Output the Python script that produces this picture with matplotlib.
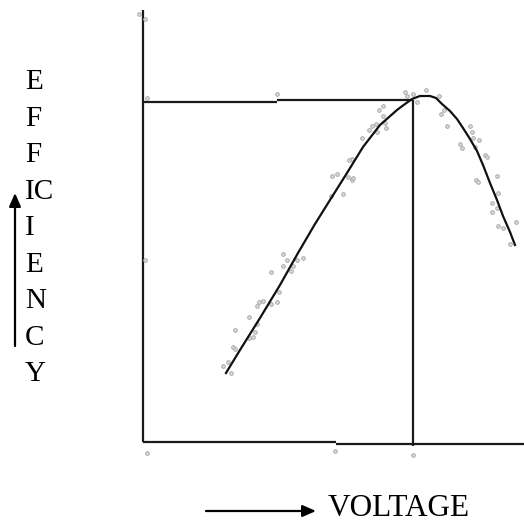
import matplotlib
matplotlib.use('Agg')
import matplotlib.pyplot as plt

# diagram drawn in image-pixel space (x right, y down)
W, H = 524, 523

# efficiency curve
curve_x = [226, 240, 260, 280, 298, 315, 330, 347, 363, 380, 397, 405, 412,
           420, 430, 436, 442, 450, 457, 463, 470, 477, 483, 490, 497, 503,
           510, 515]
curve_y = [373, 350, 318, 285, 253, 224, 200, 173, 147, 125, 110, 104, 99,
           96, 96, 98, 104, 111, 119, 128, 139, 151, 165, 183, 200, 216,
           232, 245]

# stray scan dots around the curve
dots_x = [405, 407, 413, 417, 426, 439, 441, 444, 447, 460, 462, 470, 472,
          473, 479, 475, 485, 487, 497, 476, 478, 498, 492, 492, 497, 498,
          503, 516, 510, 383, 379, 383, 385, 386, 376, 372, 369, 377, 362,
          352, 349, 352, 353, 348, 337, 332, 343, 331,
          283, 287, 297, 303, 283, 293, 291, 271, 279, 277, 271, 263, 259,
          257, 249, 257, 255, 235, 253, 249, 233, 235, 228, 223, 231,
          139, 145, 147, 277, 147, 335, 413, 145]
dots_y = [92, 96, 94, 102, 90, 96, 114, 110, 126, 144, 148, 126, 132, 138,
          140, 147, 155, 157, 176, 180, 182, 193, 203, 212, 208, 226, 228,
          222, 244, 106, 110, 116, 123, 128, 124, 126, 130, 132, 138, 159,
          160, 180, 178, 177, 174, 176, 194, 196,
          254, 260, 260, 258, 266, 266, 271, 272, 292, 302, 304, 301, 302,
          306, 317, 324, 332, 330, 337, 338, 347, 349, 362, 366, 373,
          14, 19, 98, 94, 453, 451, 455, 260]

# frame / guide lines (x list, y list)
lines = [
    ([143, 143], [10, 442]),          # left axis
    ([143, 336], [442, 442]),         # bottom axis, left part
    ([336, 524], [444, 444]),         # bottom axis, right part
    ([143, 277], [102, 102]),         # max-efficiency guide
    ([277, 413], [100, 100]),
    ([413, 413], [100, 446]),         # optimum voltage guide
]

ylabel_letters = ['E', 'F', 'F', 'IC', 'I', 'E', 'N', 'C', 'Y']
ylabel_y = [82, 119, 155, 192, 228, 265, 301, 338, 374]

fig = plt.figure(figsize=(W / 100, H / 100), dpi=100)
ax = fig.add_axes([0, 0, 1, 1])
ax.set_xlim(0, W)
ax.set_ylim(H, 0)
ax.axis('off')

for lx, ly in lines:
    ax.plot(lx, ly, color='#1a1a1a', lw=1.6, solid_capstyle='butt')

ax.plot(dots_x, dots_y, 'o', ms=2.6, mfc='#dddddd', mec='#a8a8a8', mew=0.7)
ax.plot(curve_x, curve_y, color='#111111', lw=1.6)

font = dict(family='Liberation Serif', color='black')
for s, yy in zip(ylabel_letters, ylabel_y):
    ax.text(25, yy, s, ha='left', va='center', fontsize=21, **font)
ax.text(328, 516, 'VOLTAGE', ha='left', va='baseline', fontsize=22.5, **font)

ax.annotate('', xy=(15, 193), xytext=(15, 346),
            arrowprops=dict(arrowstyle='-|>,head_width=0.35,head_length=0.8',
                            color='black', lw=1.6, shrinkA=0, shrinkB=0))
ax.annotate('', xy=(316, 511), xytext=(206, 511),
            arrowprops=dict(arrowstyle='-|>,head_width=0.35,head_length=0.8',
                            color='black', lw=1.6, shrinkA=0, shrinkB=0))

fig.savefig('out.png', dpi=100)
